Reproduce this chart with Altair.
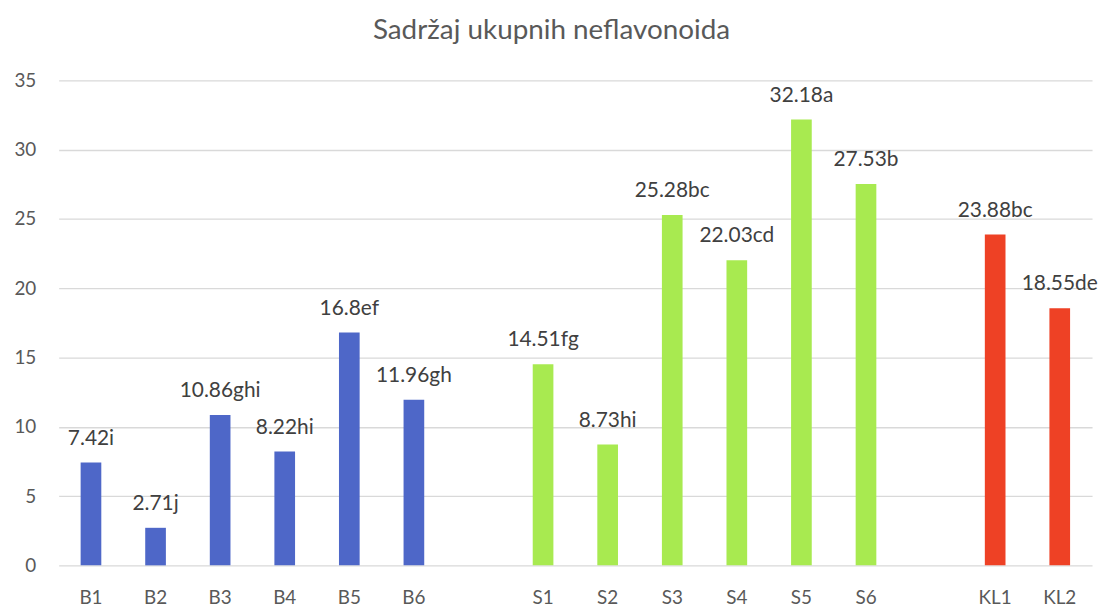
import altair as alt
import pandas as pd

categories = ["B1", "B2", "B3", "B4", "B5", "B6", "gap1",
              "S1", "S2", "S3", "S4", "S5", "S6", "gap2", "KL1", "KL2"]
samples = ["B1", "B2", "B3", "B4", "B5", "B6",
           "S1", "S2", "S3", "S4", "S5", "S6", "KL1", "KL2"]
values = [7.42, 2.71, 10.86, 8.22, 16.8, 11.96,
          14.51, 8.73, 25.28, 22.03, 32.18, 27.53, 23.88, 18.55]
letters = ["i", "j", "ghi", "hi", "ef", "gh",
           "fg", "hi", "bc", "cd", "a", "b", "bc", "de"]
groups = ["B"] * 6 + ["S"] * 6 + ["KL"] * 2

df = pd.DataFrame({
    "sample": samples,
    "value": values,
    "label": [f"{v:g}{l}" for v, l in zip(values, letters)],
    "group": groups,
})

FONT = "Lato"

x = alt.X("sample:N", sort=categories,
          scale=alt.Scale(domain=categories, paddingInner=0.68, paddingOuter=0.34),
          axis=alt.Axis(title=None, labelAngle=0, domain=False, ticks=False,
                        labelPadding=23, labelFontSize=19, labelColor="#595959",
                        labelFont=FONT,
                        labelExpr="indexof(datum.value, 'gap') >= 0 ? '' : datum.value"))
y = alt.Y("value:Q", scale=alt.Scale(domain=[0, 35], nice=False),
          axis=alt.Axis(title=None, values=[0, 5, 10, 15, 20, 25, 30, 35],
                        domain=False, ticks=False, labelPadding=23,
                        labelFontSize=19, labelColor="#595959", labelFont=FONT,
                        gridColor="#d9d9d9", gridWidth=1.3))

bars = alt.Chart(df).mark_bar().encode(
    x=x, y=y,
    color=alt.Color("group:N",
                    scale=alt.Scale(domain=["B", "S", "KL"],
                                    range=["#4E67C8", "#A8EA50", "#EE4125"]),
                    legend=None),
)
labels = alt.Chart(df).mark_text(baseline="alphabetic", dy=-18, fontSize=21,
                                 font=FONT, color="#404040").encode(
    x=x, y=y, text="label:N")

chart = (bars + labels).properties(
    width=1040, height=488,
    title=alt.TitleParams("Sadržaj ukupnih neflavonoida", fontSize=28,
                          font=FONT, fontWeight="normal", color="#595959",
                          anchor="middle", dx=-24, offset=27),
    autosize=alt.AutoSizeParams(type="none"),
    padding={"left": 51, "top": 71, "right": 7, "bottom": 42},
).configure_view(stroke=None)

chart.save("out.html", embed_options={"renderer": "svg", "actions": False})
